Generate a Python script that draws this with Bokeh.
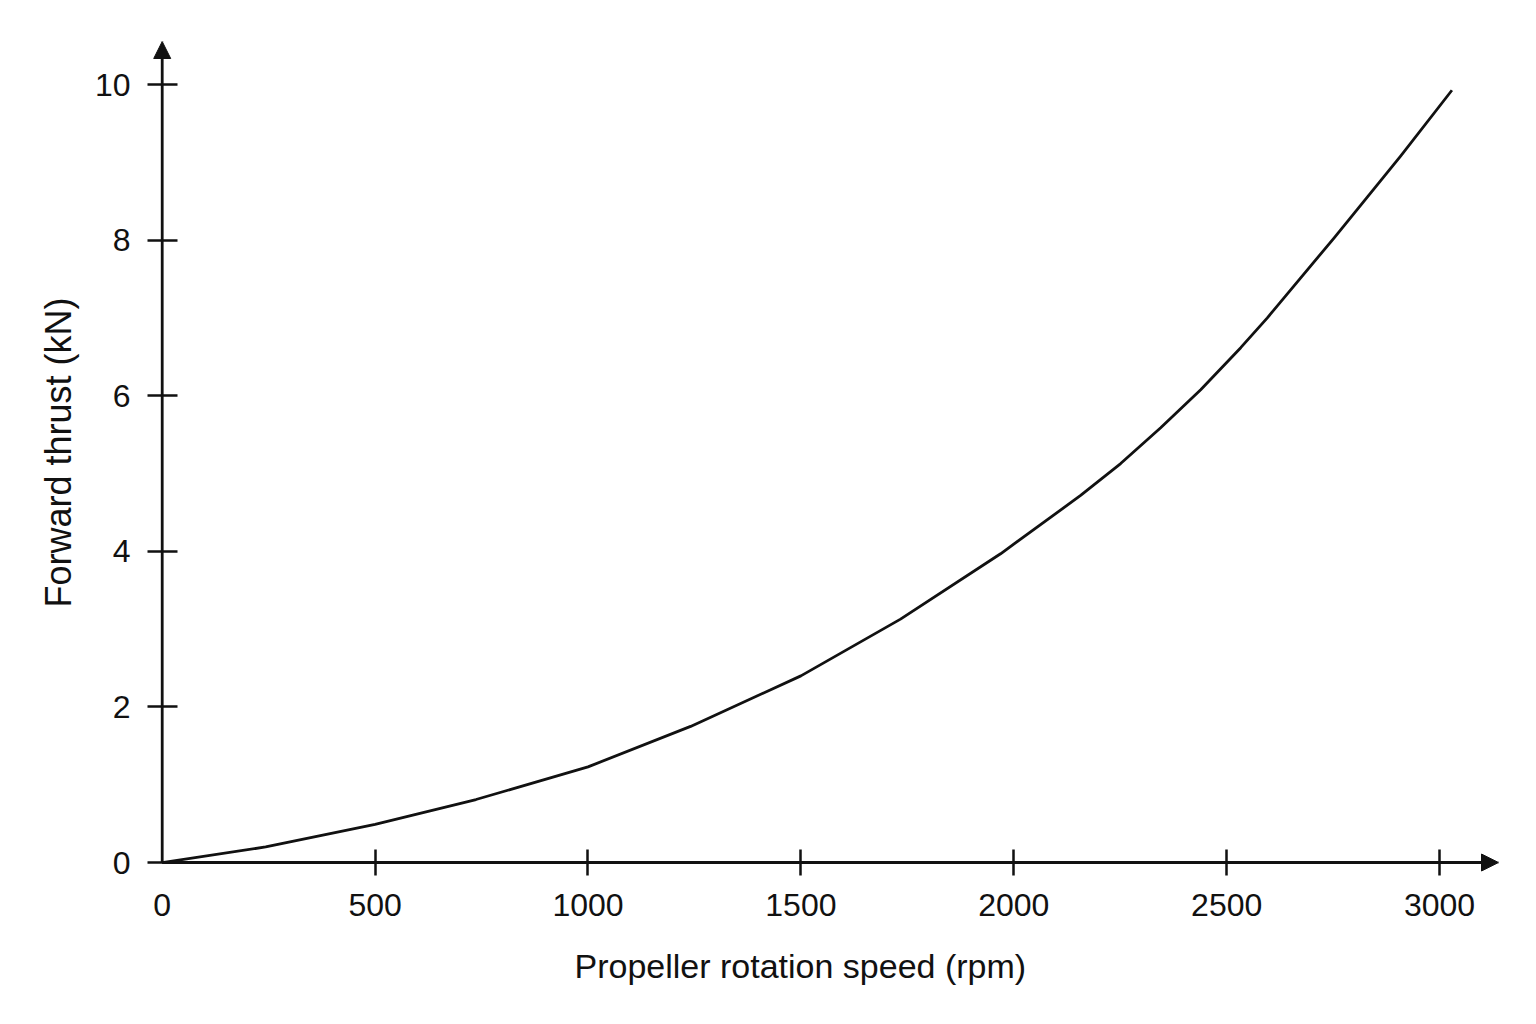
from bokeh.plotting import figure
from bokeh.models import Range1d, FixedTicker, Arrow, NormalHead, Title
from bokeh.embed import file_html
from bokeh.resources import INLINE

# Data
speed_rpm = [0, 243, 500, 737, 1000, 1241, 1500, 1734, 1969, 2157, 2251, 2345,
             2439, 2533, 2595, 2752, 2908, 3029]
thrust_kn = [0, 0.20, 0.49, 0.81, 1.23, 1.75, 2.40, 3.13, 3.97, 4.72, 5.13, 5.59,
             6.08, 6.62, 7.00, 8.03, 9.08, 9.93]

x_tick_values = [0, 500, 1000, 1500, 2000, 2500, 3000]
x_minor_values = [500, 1000, 1500, 2000, 2500, 3000]
y_tick_values = [0, 2, 4, 6, 8, 10]

x_label = "Propeller rotation speed (rpm)"
y_label = "Forward thrust  (kN)"

# ranges: a little room left of / below zero so the arrowheads are not clipped
X_START, X_END = -27.5, 3138.4
Y_START, Y_END = -0.154, 10.557

FONT = "Liberation Sans"
INK = "#111111"
LW = 2.8

p = figure(width=1528, height=1020, output_backend="svg", toolbar_location=None,
           x_range=Range1d(X_START, X_END), y_range=Range1d(Y_START, Y_END),
           min_border_left=150, min_border_right=30,
           min_border_top=41, min_border_bottom=146)
p.outline_line_color = None
p.grid.grid_line_color = None
p.background_fill_color = "white"
p.border_fill_color = "white"

# x axis (ticks only on 500..3000, label "0" kept)
xa = p.xaxis[0]
xa.ticker = FixedTicker(ticks=x_tick_values, minor_ticks=x_minor_values)
xa.major_tick_in = 0
xa.major_tick_out = 0
xa.minor_tick_in = 25
xa.minor_tick_out = 1
xa.minor_tick_line_width = 2.5
xa.minor_tick_line_color = INK
xa.axis_line_color = None
xa.major_label_text_font = FONT
xa.major_label_text_font_size = "32px"
xa.major_label_text_color = INK
xa.major_label_standoff = 18

p.add_layout(Title(text=x_label, align="left", offset=424,
                   text_font=FONT, text_font_size="34px", text_font_style="normal",
                   text_color=INK, standoff=52), "below")

# y axis
ya = p.yaxis[0]
ya.ticker = FixedTicker(ticks=y_tick_values, minor_ticks=[])
ya.major_tick_in = 27
ya.major_tick_out = 3
ya.major_tick_line_width = 2.5
ya.major_tick_line_color = INK
ya.minor_tick_line_color = None
ya.axis_line_color = None
ya.major_label_text_font = FONT
ya.major_label_text_font_size = "32px"
ya.major_label_text_color = INK
ya.major_label_standoff = 17

p.add_layout(Title(text=y_label, align="left", offset=267,
                   text_font=FONT, text_font_size="36px", text_font_style="normal",
                   text_color=INK, standoff=25), "left")

# axis lines with arrowheads
p.add_layout(Arrow(x_start=0, y_start=0, x_end=0, y_end=Y_END,
                   line_width=LW, line_color=INK,
                   end=NormalHead(size=17, fill_color=INK, line_color=INK, line_width=1)))
p.add_layout(Arrow(x_start=0, y_start=0, x_end=X_END, y_end=0,
                   line_width=LW, line_color=INK,
                   end=NormalHead(size=17, fill_color=INK, line_color=INK, line_width=1)))

# curve
p.line(speed_rpm, thrust_kn, line_width=LW, line_color=INK, line_join="round")

open("out.html", "w").write(file_html(p, INLINE))
